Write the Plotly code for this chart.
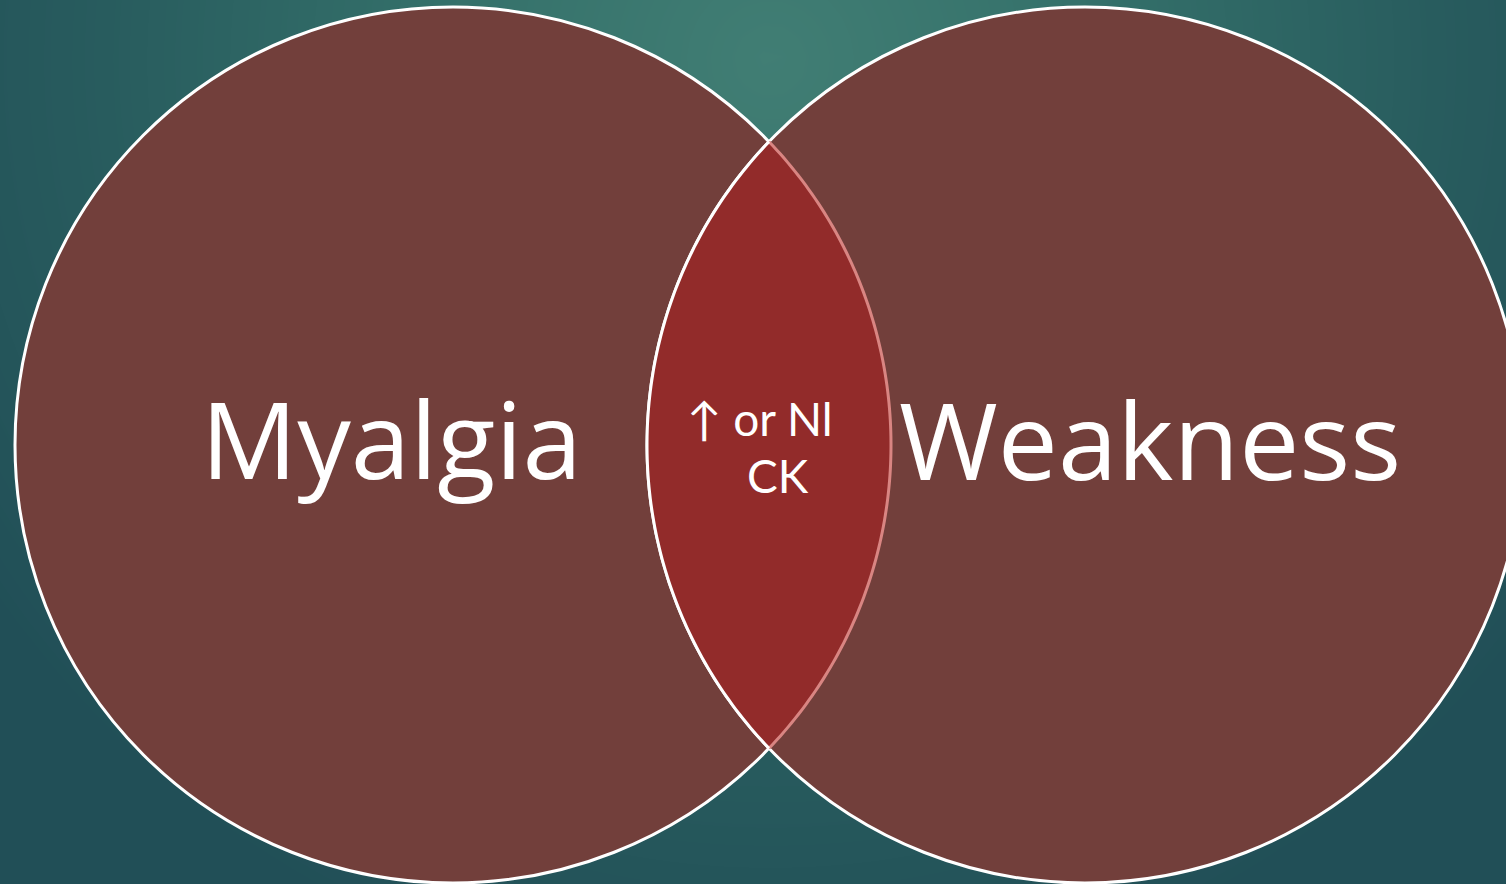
import numpy as np
import plotly.graph_objects as go

# ---- content ----
set_labels = ["Myalgia", "Weakness"]
overlap_lines = ["\u2191 or Nl", "CK"]

# ---- geometry / style ----
W, H = 1506, 884
centers = [(453, 445), (1085, 445)]
R = 438
circle_fill = "#723f3b"
lens_fill = "#922b2a"
FONT = "Open Sans"
SMALL_FONT = "Lato"

fig = go.Figure()

# background radial gradient
gx = np.linspace(0, W, 80)
gy = np.linspace(0, H, 48)
X, Y = np.meshgrid(gx, gy)
D = np.sqrt((X - 770) ** 2 + (Y - 60) ** 2)
fig.add_trace(go.Heatmap(
    x=gx, y=gy, z=D, zsmooth="best", showscale=False, hoverinfo="skip",
    zmin=0, zmax=950,
    colorscale=[[0, "#417e74"], [0.35, "#34706a"], [0.7, "#285c5e"], [1, "#214f57"]],
))

shapes = []
for (cx, cy) in centers:
    shapes.append(dict(type="circle", xref="x", yref="y",
                       x0=cx - R, x1=cx + R, y0=cy - R, y1=cy + R,
                       fillcolor=circle_fill, line=dict(color="white", width=3),
                       layer="above"))

# lens
(c1x, c1y), (c2x, c2y) = centers
dx = (c2x - c1x) / 2
h = np.sqrt(R ** 2 - dx ** 2)
a1 = np.arctan2(h, dx)
t1 = np.linspace(-a1, a1, 120)
arcL = [(c1x + R * np.cos(t), c1y + R * np.sin(t)) for t in t1]
t2 = np.linspace(np.pi - a1, np.pi + a1, 120)
arcR = [(c2x + R * np.cos(t), c2y + R * np.sin(t)) for t in t2]

def to_path(pts, close=False):
    s = "M " + " L ".join(f"{x:.2f},{y:.2f}" for x, y in pts)
    return s + (" Z" if close else "")

shapes.append(dict(type="path", xref="x", yref="y", path=to_path(arcL + arcR, True),
                   fillcolor=lens_fill, line=dict(width=0), layer="above"))
shapes.append(dict(type="path", xref="x", yref="y", path=to_path(arcL),
                   line=dict(color="#d98582", width=3), layer="above"))
shapes.append(dict(type="path", xref="x", yref="y", path=to_path(arcR),
                   line=dict(color="white", width=3), layer="above"))

annotations = [
    dict(x=391, y=437, text=set_labels[0], showarrow=False, xref="x", yref="y",
         font=dict(family=FONT, size=107, color="white"), xanchor="center", yanchor="middle"),
    dict(x=1150, y=438, text=set_labels[1], showarrow=False, xref="x", yref="y",
         font=dict(family=FONT, size=107, color="white"), xanchor="center", yanchor="middle"),
    dict(x=760, y=418, text=overlap_lines[0], showarrow=False, xref="x", yref="y",
         font=dict(family=SMALL_FONT, size=46, color="white"), xanchor="center", yanchor="middle"),
    dict(x=778, y=475, text=overlap_lines[1], showarrow=False, xref="x", yref="y",
         font=dict(family=SMALL_FONT, size=46, color="white"), xanchor="center", yanchor="middle"),
]

fig.update_layout(
    width=W, height=H, margin=dict(l=0, r=0, t=0, b=0),
    paper_bgcolor="#214f57", plot_bgcolor="#214f57",
    xaxis=dict(range=[0, W], visible=False, fixedrange=True),
    yaxis=dict(range=[H, 0], visible=False, fixedrange=True),
    shapes=shapes, annotations=annotations, showlegend=False,
)

fig.write_html("out.html", config={"displayModeBar": False},
               post_script="document.body.style.margin='0';document.body.style.overflow='hidden';")
